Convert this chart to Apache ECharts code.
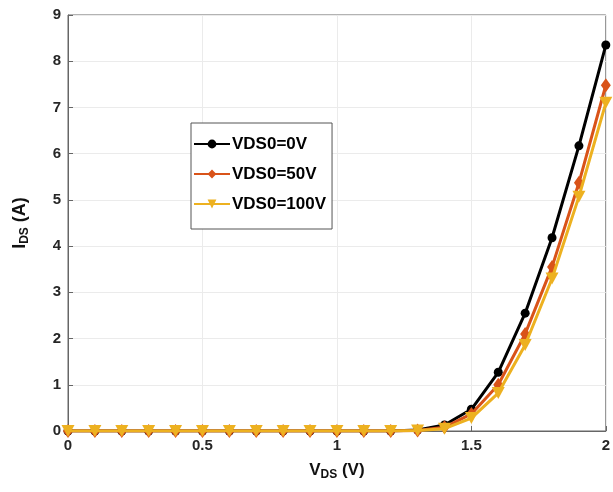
<!DOCTYPE html>
<html><head><meta charset="utf-8">
<script src="https://cdn.jsdelivr.net/npm/echarts@6/dist/echarts.min.js"></script>
<style>html,body{margin:0;padding:0;background:#fff}#c{width:613px;height:492px}</style>
</head><body><div id="c"></div>
<script>
const vds = [0,0.1,0.2,0.3,0.4,0.5,0.6,0.7,0.8,0.9,1.0,1.1,1.2,1.3,1.4,1.5,1.6,1.7,1.8,1.9,2.0];
const ids0   = [0,0,0,0,0,0,0,0,0,0,0,0,0,0.02,0.13,0.47,1.27,2.55,4.18,6.17,8.35];
const ids50  = [0,0,0,0,0,0,0,0,0,0,0,0,0,0.01,0.08,0.37,1.0,2.1,3.55,5.37,7.48];
const ids100 = [0,0,0,0,0,0,0,0,0,0,0,0,0,0.01,0.05,0.28,0.82,1.86,3.3,5.07,7.1];
const names = ['VDS0=0V','VDS0=50V','VDS0=100V'];
const xTicks = [0,0.5,1,1.5,2];
const yTicks = [0,1,2,3,4,5,6,7,8,9];

const chart = echarts.init(document.getElementById('c'));
const font = 'Liberation Sans, Arial, sans-serif';
function pairs(ys){ return vds.map((x,i)=>[x,ys[i]]); }
const triDown = 'path://M0,0 L10,0 L5,9 Z';
chart.setOption({
  animation:false,
  grid:{left:68,right:3,top:15,bottom:61,show:true,borderColor:'#666',borderWidth:1},
  legend:{
    orient:'vertical', left:191, top:123,
    data:names,
    backgroundColor:'#fff', borderColor:'#555', borderWidth:1,
    padding:[12,6,16,2], itemGap:12, itemWidth:36, itemHeight:11,
    textStyle:{fontFamily:font,fontWeight:'bold',fontSize:17,lineHeight:18,color:'#000',padding:[0,0,0,-3]}
  },
  xAxis:{
    type:'value', min:0, max:2, interval:0.5,
    axisLine:{show:true,onZero:false,lineStyle:{color:'#666'}},
    axisTick:{show:true,inside:true,length:5,lineStyle:{color:'#666'}},
    splitLine:{show:true,lineStyle:{color:'#ebebeb'}},
    axisLabel:{fontFamily:font,fontWeight:'bold',fontSize:15,color:'#262626',margin:7,
      formatter:v=>String(v)},
    name:'{m|V}{s|DS}{m| (V)}', nameLocation:'middle', nameGap:29,
    nameTextStyle:{rich:{m:{fontFamily:font,fontWeight:'bold',fontSize:17,color:'#111'},
                         s:{fontFamily:font,fontWeight:'bold',fontSize:12,color:'#111',verticalAlign:'bottom',padding:[9,0,0,0]}}}
  },
  yAxis:{
    type:'value', min:0, max:9, interval:1,
    axisLine:{show:true,lineStyle:{color:'#666'}},
    axisTick:{show:true,inside:true,length:5,lineStyle:{color:'#666'}},
    splitLine:{show:true,lineStyle:{color:'#ebebeb'}},
    axisLabel:{fontFamily:font,fontWeight:'bold',fontSize:15,color:'#262626',margin:7},
    name:'{m|I}{s|DS}{m| (A)}', nameLocation:'middle', nameGap:37,
    nameTextStyle:{rich:{m:{fontFamily:font,fontWeight:'bold',fontSize:18,color:'#111'},
                         s:{fontFamily:font,fontWeight:'bold',fontSize:12,color:'#111',verticalAlign:'bottom',padding:[9,0,0,0]}}}
  },
  series:[
    {name:names[0],type:'line',data:pairs(ids0),symbol:'circle',symbolSize:9,showAllSymbol:true,
     lineStyle:{width:3,color:'#000'},itemStyle:{color:'#000'},z:3},
    {name:names[1],type:'line',data:pairs(ids50),symbol:'diamond',symbolSize:[10,14],showAllSymbol:true,
     lineStyle:{width:3,color:'#D95319'},itemStyle:{color:'#D95319'},z:4},
    {name:names[2],type:'line',data:pairs(ids100),symbol:triDown,symbolSize:[13,12],showAllSymbol:true,
     lineStyle:{width:3,color:'#EDB120'},itemStyle:{color:'#EDB120'},z:5}
  ]
});
</script></body></html>
